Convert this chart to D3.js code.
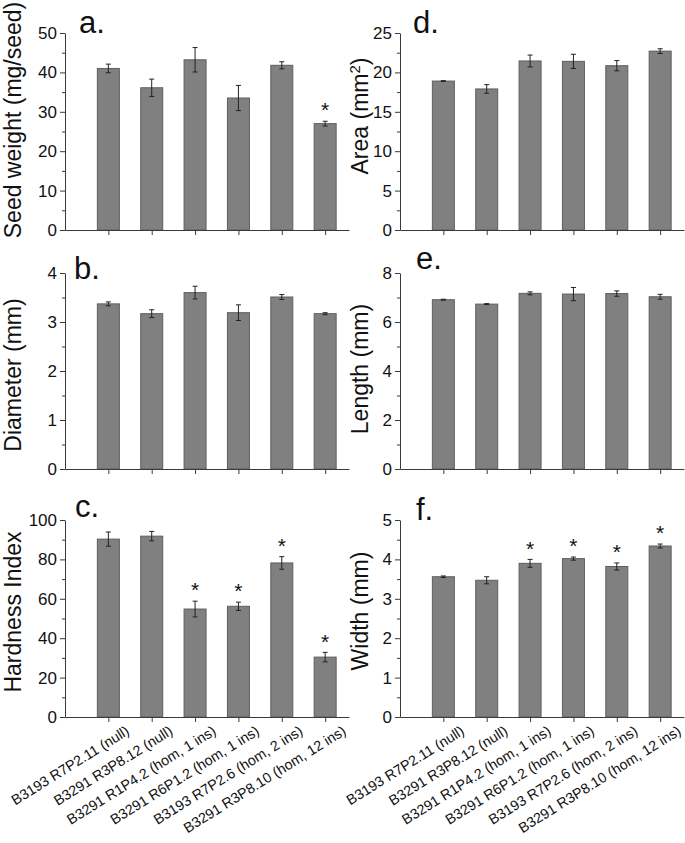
<!DOCTYPE html>
<html>
<head>
<meta charset="utf-8">
<script src="https://cdn.jsdelivr.net/npm/d3@7"></script>
<style>
  body { margin: 0; background: #fff; }
  svg { display: block; font-family: "Liberation Sans", Arial, sans-serif; }
</style>
</head>
<body>
<div id="chart"></div>
<script>
// 品系名称
const lines = [
    "B3193 R7P2.11 (null)",
    "B3291 R3P8.12 (null)",
    "B3291 R1P4.2 (hom, 1 ins)",
    "B3291 R6P1.2 (hom, 1 ins)",
    "B3193 R7P2.6 (hom, 2 ins)",
    "B3291 R3P8.10 (hom, 12 ins)"
];

// 各指标均值与误差
const seedWeight = [41.0, 36.1, 43.2, 33.5, 41.8, 27.0];
const seedWeightErr = [1.1, 2.2, 3.1, 3.2, 0.9, 0.6];
const seedWeightSig = [0, 0, 0, 0, 0, 1];

const diameter = [3.37, 3.17, 3.60, 3.19, 3.51, 3.17];
const diameterErr = [0.04, 0.08, 0.13, 0.16, 0.05, 0.02];
const diameterSig = [0, 0, 0, 0, 0, 0];

const hardness = [90.3, 91.8, 54.8, 56.2, 78.2, 30.4];
const hardnessErr = [3.6, 2.4, 4.0, 2.1, 3.2, 2.4];
const hardnessSig = [0, 0, 1, 1, 1, 1];

const area = [18.9, 17.9, 21.45, 21.4, 20.85, 22.7];
const areaErr = [0.05, 0.55, 0.75, 0.9, 0.65, 0.3];
const areaSig = [0, 0, 0, 0, 0, 0];

const lengthMm = [6.91, 6.73, 7.17, 7.14, 7.16, 7.03];
const lengthErr = [0.02, 0.02, 0.06, 0.27, 0.11, 0.1];
const lengthSig = [0, 0, 0, 0, 0, 0];

const widthMm = [3.56, 3.47, 3.90, 4.02, 3.82, 4.34];
const widthErr = [0.02, 0.09, 0.1, 0.04, 0.09, 0.05];
const widthSig = [0, 0, 1, 1, 1, 1];

// 坐标轴刻度
const seedWeightTicks = [0, 10, 20, 30, 40, 50];
const diameterTicks = [0, 1, 2, 3, 4];
const hardnessTicks = [0, 20, 40, 60, 80, 100];
const areaTicks = [0, 5, 10, 15, 20, 25];
const lengthTicks = [0, 2, 4, 6, 8];
const widthTicks = [0, 1, 2, 3, 4, 5];

const W = 685, H = 843;
const svg = d3.select("#chart").append("svg")
    .attr("width", W)
    .attr("height", H);

const cols = [{x0: 65, x1: 349, labelX: 21}, {x0: 400, x1: 684, labelX: 368}];
const rows = [{top: 33, bottom: 230}, {top: 273, bottom: 469}, {top: 520, bottom: 717}];

const axisColor = "#3a3a3a";

function drawPanel(p) {
    const col = cols[p.col], row = rows[p.row];
    const g = svg.append("g");

    const x = d3.scaleLinear().domain([0, 6.55]).range([col.x0, col.x1]);
    const yMax = p.ticks[p.ticks.length - 1];
    const y = d3.scaleLinear().domain([0, yMax]).range([row.bottom, row.top]);

    const data = p.values.map((v, i) => ({i: i, v: v, e: p.err[i], s: p.sig[i]}));

    // 柱子
    const barW = 22;
    g.selectAll(".bar")
        .data(data)
        .enter().append("rect")
        .attr("x", d => x(d.i + 1) - barW / 2)
        .attr("y", d => y(d.v))
        .attr("width", barW)
        .attr("height", d => y(0) - y(d.v))
        .attr("fill", "#808080")
        .attr("stroke", "#5e5e5e")
        .attr("stroke-width", 1);

    // 误差线
    const eg = g.selectAll(".err")
        .data(data)
        .enter().append("g")
        .attr("stroke", "#222")
        .attr("stroke-width", 1);
    eg.append("line")
        .attr("x1", d => x(d.i + 1)).attr("x2", d => x(d.i + 1))
        .attr("y1", d => y(d.v + d.e)).attr("y2", d => y(d.v - d.e));
    eg.append("line")
        .attr("x1", d => x(d.i + 1) - 2.5).attr("x2", d => x(d.i + 1) + 2.5)
        .attr("y1", d => y(d.v + d.e)).attr("y2", d => y(d.v + d.e));
    eg.append("line")
        .attr("x1", d => x(d.i + 1) - 2.5).attr("x2", d => x(d.i + 1) + 2.5)
        .attr("y1", d => y(d.v - d.e)).attr("y2", d => y(d.v - d.e));

    // 显著性星号
    g.selectAll(".star")
        .data(data.filter(d => d.s))
        .enter().append("text")
        .attr("x", d => x(d.i + 1))
        .attr("y", d => y(d.v + d.e) - 16 + 12.2)
        .attr("text-anchor", "middle")
        .style("font-size", "21px")
        .attr("fill", "#111")
        .text("*");

    // Y轴（含次刻度）
    const minor = [];
    for (let k = 0; k < p.ticks.length - 1; k++) minor.push((p.ticks[k] + p.ticks[k + 1]) / 2);
    const yMinor = g.append("g")
        .attr("transform", `translate(${col.x0},0)`)
        .call(d3.axisLeft(y).tickValues(minor).tickSize(3).tickFormat(""));
    yMinor.select(".domain").remove();
    yMinor.selectAll("line").attr("stroke", axisColor);

    const yAxis = g.append("g")
        .attr("transform", `translate(${col.x0},0)`)
        .call(d3.axisLeft(y).tickValues(p.ticks).tickSize(5).tickSizeOuter(0).tickPadding(3)
            .tickFormat(d3.format("d")));
    yAxis.select(".domain").attr("stroke", axisColor);
    yAxis.selectAll("line").attr("stroke", axisColor);
    yAxis.selectAll("text")
        .style("font-size", "17px")
        .style("font-family", "Liberation Sans, Arial, sans-serif")
        .attr("fill", "#111");

    // X轴
    const xAxis = g.append("g")
        .attr("transform", `translate(0,${row.bottom})`)
        .call(d3.axisBottom(x).tickValues([1, 2, 3, 4, 5, 6]).tickSize(5).tickSizeOuter(0)
            .tickFormat(d => p.showX ? lines[d - 1] : ""));
    xAxis.select(".domain").attr("stroke", axisColor);
    xAxis.selectAll("line").attr("stroke", axisColor);
    if (p.showX) {
        xAxis.selectAll("text")
            .attr("transform", "translate(13,3) rotate(-32)")
            .attr("dy", "0.7em")
            .attr("y", 6)
            .style("text-anchor", "end")
            .style("font-size", "14.3px")
            .style("font-family", "Liberation Sans, Arial, sans-serif")
            .attr("fill", "#111");
    }

    // Y轴标题
    const t = g.append("text")
        .attr("transform", `translate(${col.labelX},${p.labelY}) rotate(-90)`)
        .attr("text-anchor", "middle")
        .style("font-size", "23px")
        .attr("fill", "#111");
    t.append("tspan").text(p.label);
    if (p.sup) {
        t.append("tspan").attr("baseline-shift", "super").style("font-size", "15px").text(p.sup);
        t.append("tspan").text(")");
    }

    // 面板字母
    g.append("text")
        .attr("x", p.letterX)
        .attr("y", p.letterY)
        .style("font-size", "31px")
        .attr("fill", "#111")
        .text(p.letter);
}

drawPanel({col: 0, row: 0, values: seedWeight, err: seedWeightErr, sig: seedWeightSig, ticks: seedWeightTicks,
    label: "Seed weight (mg/seed)", labelY: 120, letter: "a.", letterX: 79, letterY: 33});
drawPanel({col: 0, row: 1, values: diameter, err: diameterErr, sig: diameterSig, ticks: diameterTicks,
    label: "Diameter (mm)", labelY: 375, letter: "b.", letterX: 74, letterY: 279});
drawPanel({col: 0, row: 2, values: hardness, err: hardnessErr, sig: hardnessSig, ticks: hardnessTicks,
    label: "Hardness Index", labelY: 612, letter: "c.", letterX: 75, letterY: 517, showX: true});
drawPanel({col: 1, row: 0, values: area, err: areaErr, sig: areaSig, ticks: areaTicks,
    label: "Area (mm", sup: "2", labelY: 116, letter: "d.", letterX: 413, letterY: 33});
drawPanel({col: 1, row: 1, values: lengthMm, err: lengthErr, sig: lengthSig, ticks: lengthTicks,
    label: "Length (mm)", labelY: 369, letter: "e.", letterX: 416, letterY: 269});
drawPanel({col: 1, row: 2, values: widthMm, err: widthErr, sig: widthSig, ticks: widthTicks,
    label: "Width (mm)", labelY: 611, letter: "f.", letterX: 416, letterY: 520, showX: true});
</script>
</body>
</html>
